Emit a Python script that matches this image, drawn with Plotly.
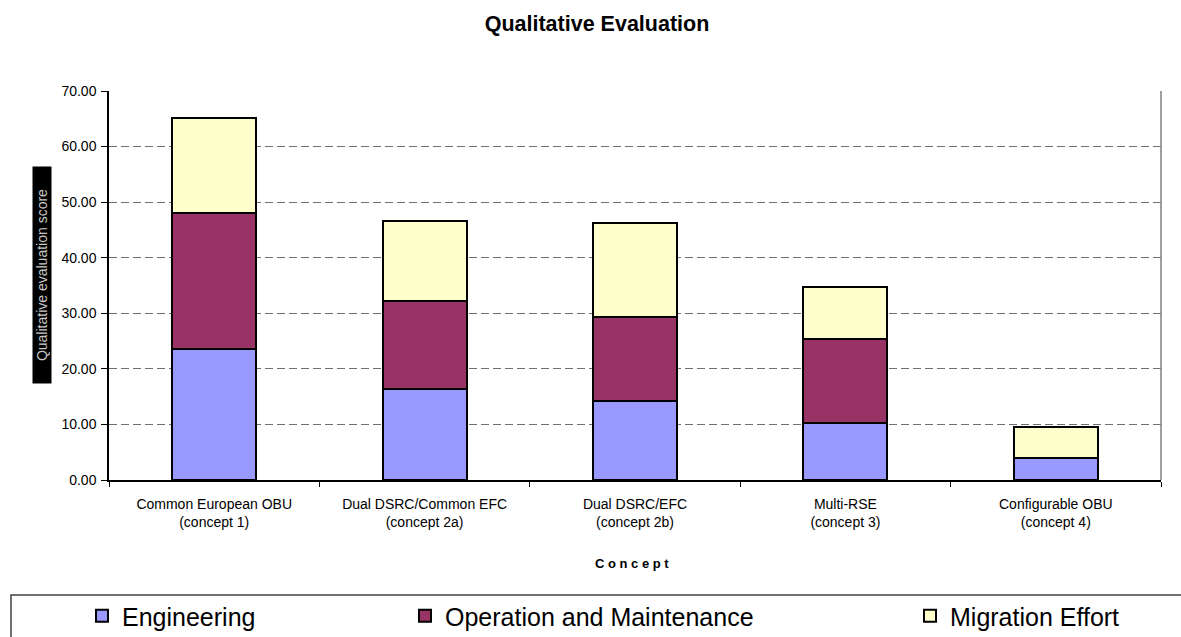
import plotly.graph_objects as go

# Concepts on the x axis (two-line tick labels)
concepts = [
    "Common European OBU<br>(concept 1)",
    "Dual DSRC/Common EFC<br>(concept 2a)",
    "Dual DSRC/EFC<br>(concept 2b)",
    "Multi-RSE<br>(concept 3)",
    "Configurable OBU<br>(concept 4)",
]

# Stacked score components per concept
engineering = [23.5, 16.4, 14.2, 10.3, 3.9]
operation_maintenance = [24.5, 15.9, 15.1, 15.1, 0.0]
migration_effort = [17.2, 14.3, 16.9, 9.3, 5.7]

y_ticks = [0, 10, 20, 30, 40, 50, 60, 70]

FONT = "Liberation Sans, Arial, sans-serif"

# Page and plot-area geometry in pixels
W, H = 1181, 637
L, R, T, B = 109, 20, 91, 157
PW, PH = W - L - R, H - T - B


def px_x(px):
    return (px - L) / PW


def px_y(py):
    return (H - B - py) / PH


fig = go.Figure()
series = [
    ("Engineering", engineering, "#9999FF", "legend"),
    ("Operation and Maintenance", operation_maintenance, "#993366", "legend2"),
    ("Migration Effort", migration_effort, "#FFFFCC", "legend3"),
]
for name, vals, color, lg in series:
    fig.add_trace(go.Bar(
        x=concepts, y=vals, name=name,
        marker=dict(color=color, line=dict(color="black", width=2)),
        legend=lg,
    ))


def legend_at(px):
    return dict(
        xref="container", yref="container",
        x=px / W, y=1 - 616 / H,
        orientation="h", yanchor="middle", xanchor="left",
        font=dict(family=FONT, size=25, color="black"),
        bgcolor="rgba(0,0,0,0)", borderwidth=0,
    )


fig.update_layout(
    width=W, height=H,
    margin=dict(l=L, r=R, t=T, b=B, autoexpand=False),
    paper_bgcolor="white", plot_bgcolor="white",
    barmode="stack", bargap=0.6,
    font=dict(family=FONT, color="black"),
    showlegend=True,
    title=dict(
        text="<b>Qualitative Evaluation</b>",
        x=597 / W, xanchor="center", y=1 - 23 / H, yanchor="middle",
        font=dict(family=FONT, size=21.5, color="black"),
    ),
    legend=legend_at(82),
    legend2=legend_at(405),
    legend3=legend_at(910),
    xaxis=dict(
        showline=True, linecolor="black", linewidth=1.5,
        ticks="outside", tickson="boundaries", ticklen=5, tickcolor="black",
        tickfont=dict(family=FONT, size=14, color="black"),
        ticklabelstandoff=10,
        showgrid=False, mirror=False,
    ),
    yaxis=dict(
        range=[0, 70], tickvals=y_ticks, tickformat=".2f",
        showline=True, linecolor="black", linewidth=1.5,
        ticks="outside", ticklen=6, tickcolor="black",
        tickfont=dict(family=FONT, size=14, color="black"),
        ticklabelstandoff=2,
        showgrid=True, gridcolor="#707070", gridwidth=1, griddash="8px,4px",
        zeroline=False,
    ),
)

# Right-hand frame edge of the plot area
fig.add_shape(type="line", xref="paper", yref="paper", x0=1, x1=1, y0=0, y1=1,
              line=dict(color="#808080", width=1.5))

# Outer box around the legend row
fig.add_shape(type="rect", xref="paper", yref="paper",
              x0=px_x(11), x1=px_x(1190), y0=px_y(595), y1=px_y(650),
              line=dict(color="#404040", width=1.5), fillcolor="rgba(0,0,0,0)")

# x-axis title
fig.add_annotation(
    text="<b>C o n c e p t</b>", xref="paper", yref="paper",
    x=px_x(632), y=px_y(563), showarrow=False, xanchor="center", yanchor="middle",
    font=dict(family=FONT, size=13, color="black"),
)

# y-axis title on a black band
fig.add_annotation(
    text="Qualitative evaluation score", xref="paper", yref="paper",
    x=px_x(42), y=px_y(275), showarrow=False, textangle=-90,
    xanchor="center", yanchor="middle",
    width=214, height=16, bgcolor="black", borderpad=1,
    font=dict(family=FONT, size=14, color="#c8c8c8"),
)

fig.write_html("out.html")
